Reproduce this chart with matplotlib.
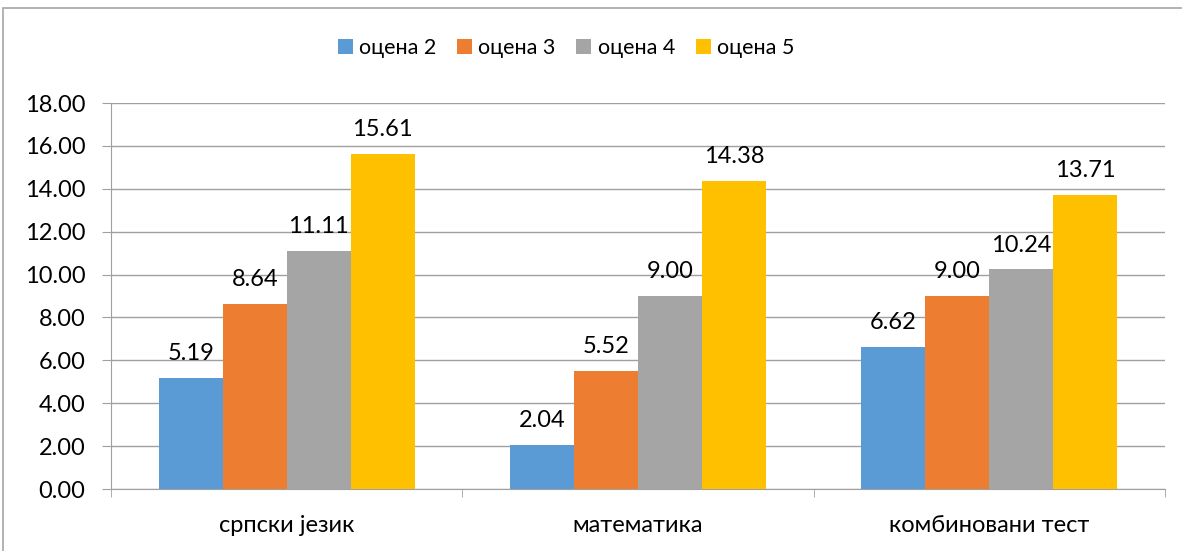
import matplotlib
matplotlib.use("Agg")
import matplotlib.pyplot as plt
from matplotlib.patches import Rectangle, Patch
import numpy as np

categories = ["српски језик", "математика", "комбиновани тест"]
series_names = ["оцена 2", "оцена 3", "оцена 4", "оцена 5"]
ocena2 = [5.19, 2.04, 6.62]
ocena3 = [8.64, 5.52, 9.00]
ocena4 = [11.11, 9.00, 10.24]
ocena5 = [15.61, 14.38, 13.71]
yticks = [0, 2, 4, 6, 8, 10, 12, 14, 16, 18]

colors = ["#5B9BD5", "#ED7D31", "#A5A5A5", "#FFC000"]
series = [ocena2, ocena3, ocena4, ocena5]

plt.rcParams['font.family'] = ['Lato', 'DejaVu Sans']

W, H = 1182, 551
fig = plt.figure(figsize=(W/100, H/100), dpi=100)
fig.patch.set_facecolor("white")

# chart border
fig.patches.append(Rectangle((3/W, -0.05), 1.2, (H-8)/H + 0.05, transform=fig.transFigure,
                             fill=False, edgecolor="#A6A6A6", linewidth=1.2))

ax = fig.add_axes([111/W, (H-489)/H, (1165-111)/W, (489-103)/H])
x = np.arange(len(categories))
bw = 0.182
for i, (vals, c, name) in enumerate(zip(series, colors, series_names)):
    pos = x + (i - 1.5) * bw
    bars = ax.bar(pos, vals, width=bw, color=c, label=name, zorder=3)
    for b, v in zip(bars, vals):
        ax.annotate(f"{v:.2f}", (b.get_x() + b.get_width()/2, v), xytext=(0, 10),
                    textcoords="offset points", ha="center", va="bottom",
                    fontsize=17, color="#000000")

ax.set_xlim(-0.5, 2.5)
ax.set_ylim(0, 18)
ax.set_yticks(yticks)
ax.set_yticklabels([f"{t:.2f}" for t in yticks], fontsize=17)
ax.yaxis.grid(True, color="#A0A0A0", linewidth=1, zorder=0)
ax.set_axisbelow(True)
for s in ["top", "right"]:
    ax.spines[s].set_visible(False)
ax.spines["left"].set_color("#A0A0A0")
ax.spines["bottom"].set_color("#A0A0A0")
ax.tick_params(axis="y", length=6.5, color="#A0A0A0", pad=12, labelcolor="black")
ax.set_xticks(x)
ax.set_xticklabels(categories, fontsize=17)
ax.set_xticks([-0.5, 0.5, 1.5, 2.5], minor=True)
ax.tick_params(axis="x", which="major", length=0, pad=19)
ax.tick_params(axis="x", which="minor", length=6, color="#A0A0A0")

handles = [Patch(facecolor=c, edgecolor="none") for c in colors]
fig.legend(handles, series_names, loc="center", bbox_to_anchor=(566/W, 1 - 48/H),
           ncol=4, frameon=False, fontsize=15.5, handlelength=0.7, handleheight=0.7,
           handletextpad=0.3, columnspacing=0.95)

fig.savefig("out.png", dpi=100, facecolor="white")
